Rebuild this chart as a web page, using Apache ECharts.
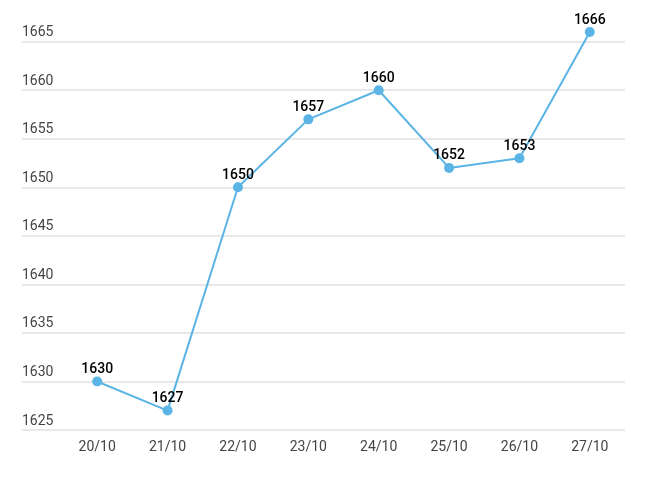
<!DOCTYPE html>
<html><head><meta charset="utf-8">
<script src="https://cdn.jsdelivr.net/npm/echarts@6/dist/echarts.min.js"></script>
<style>html,body{margin:0;padding:0;background:#fff}#c{width:660px;height:480px}</style>
</head><body><div id="c"></div>
<script>
var categories = ['20/10','21/10','22/10','23/10','24/10','25/10','26/10','27/10'];
var values = [1630, 1627, 1650, 1657, 1660, 1652, 1653, 1666];
var yMin = 1625, yMax = 1666, yStep = 5;

var chart = echarts.init(document.getElementById('c'), null, {renderer:'canvas'});
var font = 'Roboto, sans-serif';
chart.setOption({
  animation: false,
  backgroundColor: '#fff',
  grid: [
    {left: 22, right: 35, top: 32, bottom: 50},
    {left: 62, right: 35, top: 32, bottom: 50}
  ],
  xAxis: [
    {gridIndex: 0, type: 'value', show: false, min: 0, max: 1},
    {gridIndex: 1, type: 'category', data: categories, boundaryGap: true,
     axisLine: {show: false}, axisTick: {show: false},
     axisLabel: {color: '#444', fontSize: 14, fontFamily: font, margin: 10}}
  ],
  yAxis: [
    {gridIndex: 0, type: 'value', min: yMin, max: yMax, interval: yStep,
     axisLine: {show: false}, axisTick: {show: false},
     axisLabel: {inside: true, verticalAlign: 'bottom', margin: 0, color: '#444', fontSize: 14, fontFamily: font,
                 showMaxLabel: false, padding: [0,0,2,0], formatter: function(v){ return String(v); }},
     splitLine: {show: true, showMaxLine: false, lineStyle: {color: '#e0e0e0', width: 1.5}}},
    {gridIndex: 1, type: 'value', min: yMin, max: yMax, show: false, splitLine: {show: false}}
  ],
  series: [{
    type: 'line', xAxisIndex: 1, yAxisIndex: 1, data: values,
    symbol: 'circle', symbolSize: 10,
    lineStyle: {color: '#5AB4E5', width: 2},
    itemStyle: {color: '#5AB4E5'},
    label: {show: true, position: 'top', distance: 0, color: '#000', fontSize: 14, fontWeight: 500, fontFamily: font}
  }]
});
</script></body></html>
